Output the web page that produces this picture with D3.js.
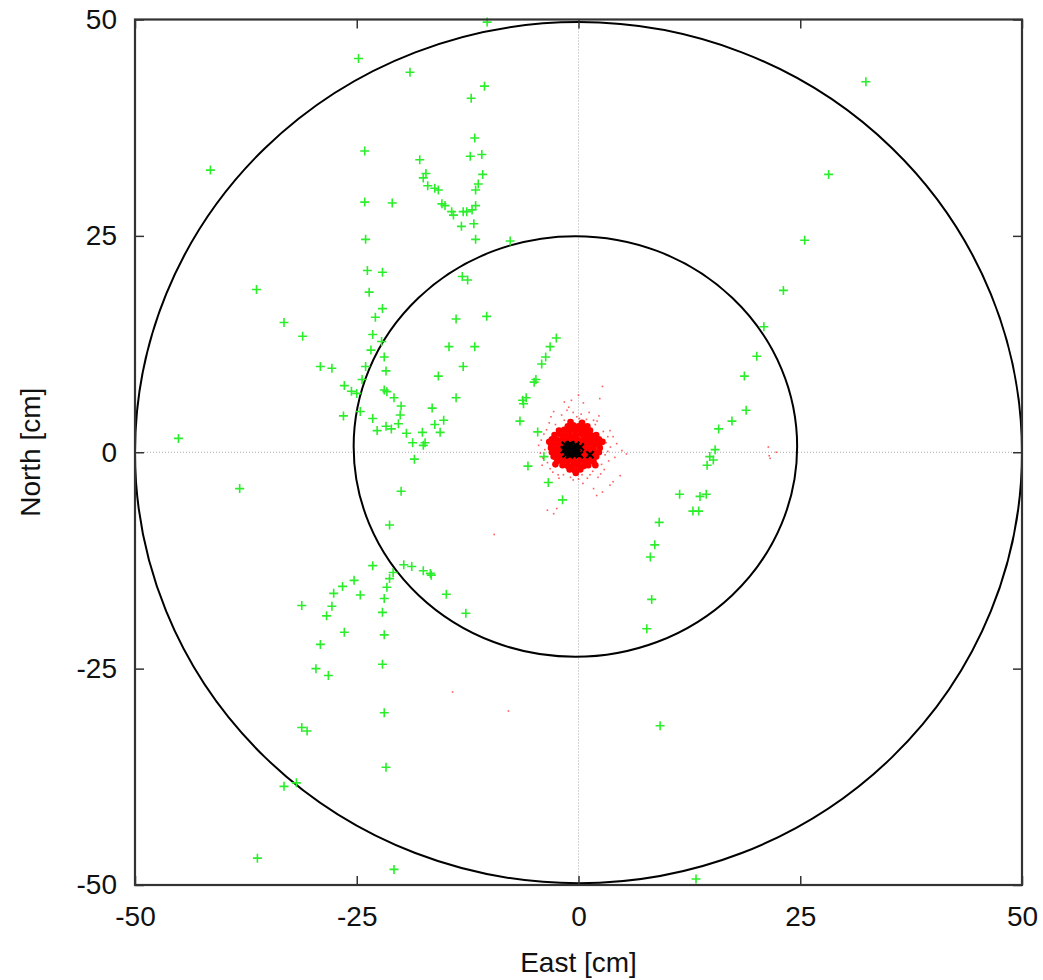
<!DOCTYPE html>
<html>
<head>
<meta charset="utf-8">
<script src="https://cdn.jsdelivr.net/npm/d3@7"></script>
<style>
  html, body { margin: 0; padding: 0; background: #fff; }
  svg { display: block; }
  text { font-family: "Liberation Sans", Arial, Helvetica, sans-serif; fill: #111; }
</style>
</head>
<body>
<svg id="chart" width="1043" height="980"></svg>
<script>
// ---------------- data (cm) ----------------
const xTicks = [-50, -25, 0, 25, 50];
const yTicks = [-50, -25, 0, 25, 50];
const xLabel = "East [cm]";
const yLabel = "North [cm]";

// reference circles: centre and radii (east, north) in cm
const circles = [
  { cx: 0.0, cy: -0.05, rx: 50.0, ry: 49.75 },
  { cx: -0.35, cy: 0.67, rx: 25.0, ry: 24.3 }
];

// green "+" points [east, north]
const greenPoints = [
  [-24.8,45.5],[-19.0,43.9],[-24.1,34.8],[-41.5,32.6],[-17.9,33.8],[-17.2,32.2],[-17.5,31.7],[-17.0,30.8],
  [-24.1,28.9],[-21.0,28.8],[-24.0,24.6],
  [-10.3,49.7],[-10.6,42.3],[-12.1,40.9],[-11.7,36.3],[-12.2,34.2],[-10.9,34.4],[-10.8,32.1],[-11.3,31.0],
  [-11.6,30.3],[-11.6,28.5],[-16.2,30.5],[-15.8,30.3],[-15.4,28.7],[-15.05,28.5],[-14.3,27.8],[-14.1,27.4],
  [-13.0,27.8],[-12.6,27.8],[-12.0,28.0],[-13.2,26.1],[-11.8,26.4],[-11.6,24.6],[-7.7,24.4],
  [-23.8,21.0],[-22.1,20.8],[-23.6,18.5],[-36.3,18.8],[-22.1,16.6],[-22.9,15.6],[-33.2,15.0],[-31.1,13.4],
  [-23.2,13.6],[-22.2,12.8],[-23.4,11.8],[-21.9,11.0],[-29.1,9.9],[-27.8,9.7],[-24.0,9.9],[-21.7,9.4],
  [-24.4,8.4],[-26.4,7.7],[-25.6,7.05],[-25.0,6.8],[-21.9,7.2],[-21.6,7.0],[-20.8,6.3],[-20.0,5.35],
  [-20.1,4.3],[-26.5,4.2],[-24.6,4.7],[-23.2,3.9],[-20.3,3.3],[-22.7,2.5],[-21.7,3.0],[-21.1,2.7],
  [-19.4,2.2],[-17.6,2.3],[-18.7,1.1],[-17.5,0.8],[-17.3,1.1],[-18.5,-0.8],[-45.1,1.6],
  [-38.2,-4.2],[-20.0,-4.5],[-21.3,-8.4],[-23.2,-13.1],[-19.7,-13.0],[-18.8,-13.2],[-17.5,-13.7],[-16.7,-14.0],
  [-20.9,-13.9],[-21.3,-14.6],[-21.6,-15.6],[-25.3,-14.8],[-26.6,-15.5],[-27.6,-16.3],[-24.6,-16.5],[-21.9,-16.9],
  [-31.2,-17.7],[-27.8,-17.8],[-28.4,-18.9],[-22.1,-18.5],[-26.4,-20.8],[-21.9,-21.1],[-29.1,-22.2],[-22.1,-24.5],
  [-29.6,-25.0],[-28.2,-25.8],
  [-21.9,-30.1],[-31.2,-31.8],[-30.6,-32.2],[-21.7,-36.4],[-33.2,-38.6],[-31.8,-38.2],[-36.2,-46.9],[-20.8,-48.2],
  [-13.1,20.3],[-12.5,19.9],[-13.8,15.4],[-10.35,15.7],[-14.6,12.2],[-11.7,12.2],[-13.0,9.9],[-15.8,8.8],
  [-13.8,6.3],[-16.5,5.1],[-15.2,3.7],[-16.2,3.2],[-15.6,2.3],
  [-2.5,13.2],[-3.2,12.2],[-3.7,11.0],[-4.15,10.2],[-4.8,8.4],[-5.0,8.1],[-5.9,6.3],[-6.3,6.0],[-6.2,5.6],
  [-6.6,3.6],[-4.6,2.35],[-3.9,-0.5],
  [-5.7,-1.6],[-3.4,-3.5],[-1.8,-5.5],
  [-16.6,-14.2],[-14.9,-16.4],[-12.7,-18.6],
  [15.8,2.7],[15.4,0.3],[14.8,-0.5],[15.2,-0.9],[14.5,-1.5],[11.4,-4.85],[13.7,-5.1],[14.4,-4.85],
  [12.9,-6.8],[13.55,-6.8],[9.1,-8.1],[8.6,-10.7],[8.1,-12.1],[8.25,-17.0],[7.7,-20.4],
  [9.2,-31.6],[13.25,-49.3],
  [32.4,42.8],[28.2,32.1],[25.5,24.5],[23.1,18.7],[20.9,14.5],[20.1,11.1],[18.7,8.8],[18.9,4.85],[17.3,3.6]
];

// dense red solutions (core) [east, north]
const redCore = [
  [-1.2,3.0],[-0.6,3.1],[0.0,3.0],[0.5,2.9],
  [-2.2,2.5],[-1.6,2.6],[-1.0,2.5],[-0.4,2.5],[0.2,2.6],[0.8,2.4],[1.3,2.5],
  [-2.7,2.0],[-2.1,2.1],[-1.5,2.0],[-0.9,1.9],[-0.3,2.0],[0.3,2.1],[0.9,2.0],[1.5,1.9],[2.0,2.0],
  [-3.0,1.5],[-2.4,1.4],[-1.8,1.5],[-1.2,1.6],[-0.6,1.5],[0.0,1.4],[0.6,1.5],[1.2,1.5],[1.8,1.4],[2.3,1.5],
  [-3.1,1.0],[-2.5,1.0],[-1.9,0.9],[-1.3,1.0],[-0.7,1.1],[-0.1,1.0],[0.5,0.9],[1.1,1.0],[1.7,1.0],[2.3,0.9],
  [-3.1,0.5],[-2.5,0.4],[-1.9,0.5],[-1.3,0.5],[-0.7,0.4],[-0.1,0.5],[0.5,0.5],[1.1,0.4],[1.7,0.5],[2.4,0.5],
  [-3.0,0.0],[-2.4,0.1],[-1.8,0.0],[-1.2,-0.1],[-0.6,0.0],[0.0,0.1],[0.6,0.0],[1.2,-0.1],[1.8,0.0],[2.3,0.0],
  [-2.8,-0.5],[-2.2,-0.5],[-1.6,-0.6],[-1.0,-0.5],[-0.4,-0.4],[0.2,-0.5],[0.8,-0.6],[1.4,-0.5],[2.0,-0.5],
  [-2.4,-1.0],[-1.8,-1.1],[-1.2,-1.0],[-0.6,-1.0],[0.0,-1.1],[0.6,-1.0],[1.2,-1.0],[1.7,-1.1],
  [-1.8,-1.5],[-1.2,-1.6],[-0.6,-1.5],[0.0,-1.5],[0.6,-1.6],[1.1,-1.5],
  [-1.0,-2.0],[-0.4,-2.1],[0.2,-2.0],
  [-0.9,3.5],[0.4,3.4],[-2.6,-1.4],[1.9,-1.5],[2.7,1.2],[-3.3,1.2],[-0.3,-2.4],[1.0,3.0]
];

// sparse red solutions [east, north]
const redSparse = [
  [-3.6,2.6],[-3.8,0.3],[-3.5,-1.2],[-2.9,-2.3],[-1.7,-2.6],[0.4,-2.6],[1.6,-2.2],[2.6,-1.4],[3.0,-0.3],
  [3.1,1.1],[2.8,2.4],[1.9,3.2],[0.9,3.8],[-0.2,4.1],[-1.6,3.7],[-2.6,3.2],[-0.6,4.6],[0.3,4.4],[-1.1,5.2],
  [1.2,4.6],[-4.2,1.4],[3.6,0.6],[3.4,-1.0],[-4.0,-0.7],[-2.2,-3.0],[1.0,-3.0],[2.2,-2.9],[3.9,1.8],
  [-3.1,4.1],[2.3,4.2],
  [-3.9,2.1],[-4.3,-0.1],[-3.2,-1.9],[-0.9,-2.9],[1.3,-2.6],[2.9,-2.0],[3.3,0.1],[3.3,1.8],[2.1,3.6],
  [0.1,3.9],[-1.9,4.3],[-3.3,3.4],[-4.5,0.8],[-4.1,-1.5],[-2.3,-2.6],[0.0,-3.1],[2.5,-2.5],[4.1,-0.6],
  [2.7,7.6],[2.4,6.2],[0.0,6.6],[-1.6,5.8],[-0.8,6.0],[0.55,5.7],[-2.8,4.7],[4.9,0.2],[4.3,1.0],[3.55,2.5],
  [1.7,3.7],[-1.3,4.85],[4.7,-2.7],[3.9,-3.4],[3.55,-3.8],[2.7,-4.6],[2.05,-5.0],[1.7,-4.2],[0.5,-3.6],
  [-0.6,-3.2],[-2.45,-6.5],[-2.8,-7.1],[-3.5,-6.7],[-9.5,-9.5],[5.4,-0.2],[-14.2,-27.7],[-7.9,-29.9],
  [21.4,0.6],[21.6,-0.7],[22.3,0.0],[21.5,-0.4]
];

// black "x" solutions [east, north]
const blackPoints = [
  [-1.5,0.8],[-1.2,0.2],[-0.9,0.9],[-0.6,0.4],[-0.3,0.8],[-1.0,-0.3],[-0.5,-0.2],[-0.1,0.2],
  [0.2,0.6],[-1.4,-0.2],[-0.8,0.5],[0.1,-0.3],[1.3,-0.3],
  [-1.3,0.5],[-0.7,0.1],[-0.4,0.5],[-1.1,0.8],[-0.2,-0.1],[-0.9,-0.1],[-1.6,0.3]
];

// ---------------- drawing ----------------
const svg = d3.select("#chart");
const pLeft = 135, pRight = 1022, pTop = 19.5, pBottom = 885;

const x = d3.scaleLinear().domain([-50, 50]).range([pLeft, pRight]);
const y = d3.scaleLinear().domain([-50, 50]).range([pBottom, pTop]);

const plot = svg.append("g");
svg.append("defs").append("clipPath").attr("id", "clip")
  .append("rect").attr("x", pLeft).attr("y", pTop).attr("width", pRight - pLeft).attr("height", pBottom - pTop);

// zero axes (dotted)
plot.append("line").attr("x1", x(0)).attr("x2", x(0)).attr("y1", pTop).attr("y2", pBottom)
  .attr("stroke", "#aaa").attr("stroke-width", 1).attr("stroke-dasharray", "1,2");
plot.append("line").attr("x1", pLeft).attr("x2", pRight).attr("y1", y(0)).attr("y2", y(0))
  .attr("stroke", "#aaa").attr("stroke-width", 1).attr("stroke-dasharray", "1,2");

// circles
plot.append("g").attr("clip-path", "url(#clip)")
  .selectAll("ellipse").data(circles).join("ellipse")
  .attr("cx", d => x(d.cx)).attr("cy", d => y(d.cy))
  .attr("rx", d => x(d.rx) - x(0)).attr("ry", d => y(0) - y(d.ry))
  .attr("fill", "none").attr("stroke", "#000").attr("stroke-width", 2);

// green plus markers
const gp = 4.5;
plot.append("g").selectAll("path").data(greenPoints).join("path")
  .attr("d", d => `M${x(d[0]) - gp},${y(d[1])}H${x(d[0]) + gp}M${x(d[0])},${y(d[1]) - gp}V${y(d[1]) + gp}`)
  .attr("stroke", "#2aee2a").attr("stroke-width", 1.6).attr("fill", "none");

// sparse red dots
plot.append("g").selectAll("rect").data(redSparse).join("rect")
  .attr("x", d => x(d[0]) - 0.8).attr("y", d => y(d[1]) - 0.8)
  .attr("width", 1.6).attr("height", 1.6).attr("fill", "#ff3333").attr("opacity", 0.8);

// dense red core
plot.append("g").selectAll("circle").data(redCore).join("circle")
  .attr("cx", d => x(d[0])).attr("cy", d => y(d[1])).attr("r", 3.3)
  .attr("fill", "#ff0000");

// black x markers
const bp = 3.5;
plot.append("g").selectAll("path").data(blackPoints).join("path")
  .attr("d", d => {
    const cx = x(d[0]), cy = y(d[1]);
    return `M${cx - bp},${cy - bp}L${cx + bp},${cy + bp}M${cx - bp},${cy + bp}L${cx + bp},${cy - bp}`;
  })
  .attr("stroke", "#000").attr("stroke-width", 2.2).attr("fill", "none");

// axes with inward ticks
const fs = 28;
const fmt = d => String(d);   // plain hyphen-minus as in the original
const axB = svg.append("g").attr("transform", `translate(0,${pBottom})`)
  .call(d3.axisBottom(x).tickValues(xTicks).tickSize(-9).tickPadding(21).tickFormat(fmt));
const axT = svg.append("g").attr("transform", `translate(0,${pTop})`)
  .call(d3.axisTop(x).tickValues(xTicks).tickSize(-9).tickFormat(""));
const axL = svg.append("g").attr("transform", `translate(${pLeft},0)`)
  .call(d3.axisLeft(y).tickValues(yTicks).tickSize(-9).tickPadding(18).tickFormat(fmt));
const axR = svg.append("g").attr("transform", `translate(${pRight},0)`)
  .call(d3.axisRight(y).tickValues(yTicks).tickSize(-9).tickFormat(""));
[axB, axT, axL, axR].forEach(a => {
  a.select(".domain").remove();
  a.selectAll(".tick line").attr("stroke", "#333").attr("stroke-width", 1.5);
  a.selectAll(".tick text").attr("font-size", fs).attr("fill", "#111")
    .style("font-family", '"Liberation Sans", Arial, sans-serif');
});

// frame
svg.append("rect").attr("x", pLeft).attr("y", pTop).attr("width", pRight - pLeft).attr("height", pBottom - pTop)
  .attr("fill", "none").attr("stroke", "#333").attr("stroke-width", 2.2);

// axis titles
svg.append("text").attr("x", (pLeft + pRight) / 2).attr("y", 972)
  .attr("text-anchor", "middle").attr("font-size", fs).text(xLabel);
svg.append("text").attr("transform", `translate(40,${(pTop + pBottom) / 2}) rotate(-90)`)
  .attr("text-anchor", "middle").attr("font-size", fs).text(yLabel);
</script>
</body>
</html>
